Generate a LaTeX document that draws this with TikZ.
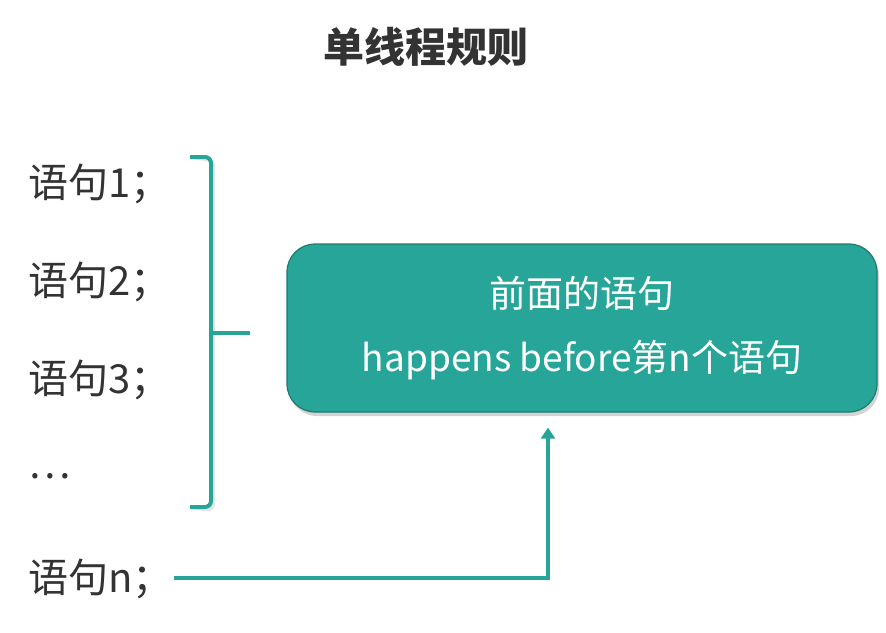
\documentclass[tikz,border=0pt]{standalone}
\usepackage{fontspec}
\usepackage{tikz}
\usetikzlibrary{shadows,arrows.meta}
\newfontfamily\cjk{Noto Sans CJK SC}
\definecolor{teal1}{RGB}{38,165,152}
\definecolor{teal2}{RGB}{30,122,112}
\definecolor{txtgray}{RGB}{51,51,51}
\tikzset{
  stmt/.style={anchor=west,inner sep=0pt,text=txtgray,font=\cjk\fontsize{40}{44}\selectfont},
  rulebox/.style={rectangle,rounded corners=28pt,fill=teal1,draw=teal2,line width=1.2pt,
    minimum width=590pt,minimum height=168pt,text=white,align=center,
    font=\cjk\fontsize{37}{64}\selectfont,
    drop shadow={shadow xshift=2pt,shadow yshift=-4pt,opacity=0.35}},
  tealline/.style={draw=teal1,line width=4pt},
  shd/.style={draw=black!25,line width=4pt}
}
\begin{document}
\begin{tikzpicture}[x=1pt,y=-1pt]
        \useasboundingbox (0,0) rectangle (886,632);
        % Title
        \draw (426,47) node[text=txtgray,font=\cjk\bfseries\fontsize{41}{44}\selectfont](title) {单线程规则};
        % Statements
        \draw (28,184) node[stmt](s1) {语句1；};
        \draw (28,282) node[stmt](s2) {语句2；};
        \draw (28,380) node[stmt](s3) {语句3；};
        \draw (28,476) node[stmt](sdots) {…};
        \draw (28,579) node[stmt](sn) {语句n；};
        % Brace
        \coordinate (btop) at (190,157);
        \coordinate (bbot) at (190,507);
        \coordinate (bmid) at (250,333);
        \draw[shd,opacity=0.4,rounded corners=6pt,shift={(2pt,-3pt)}] (btop) -- (211,157) -- (211,507) -- (bbot);
        \draw[tealline,rounded corners=6pt] (btop) -- (211,157) -- (211,507) -- (bbot);
        \draw[tealline] (211,333) -- (bmid);
        % Rule box
        \draw (582,328) node[rulebox](rule) {前面的语句\\happens before第n个语句};
        % Arrow
        \draw[tealline,-{Triangle[length=11pt,width=14pt]}] ([xshift=1pt,yshift=1pt]sn.east) -| ([xshift=-34pt,yshift=-15pt]rule.south);
\end{tikzpicture}
\end{document}
